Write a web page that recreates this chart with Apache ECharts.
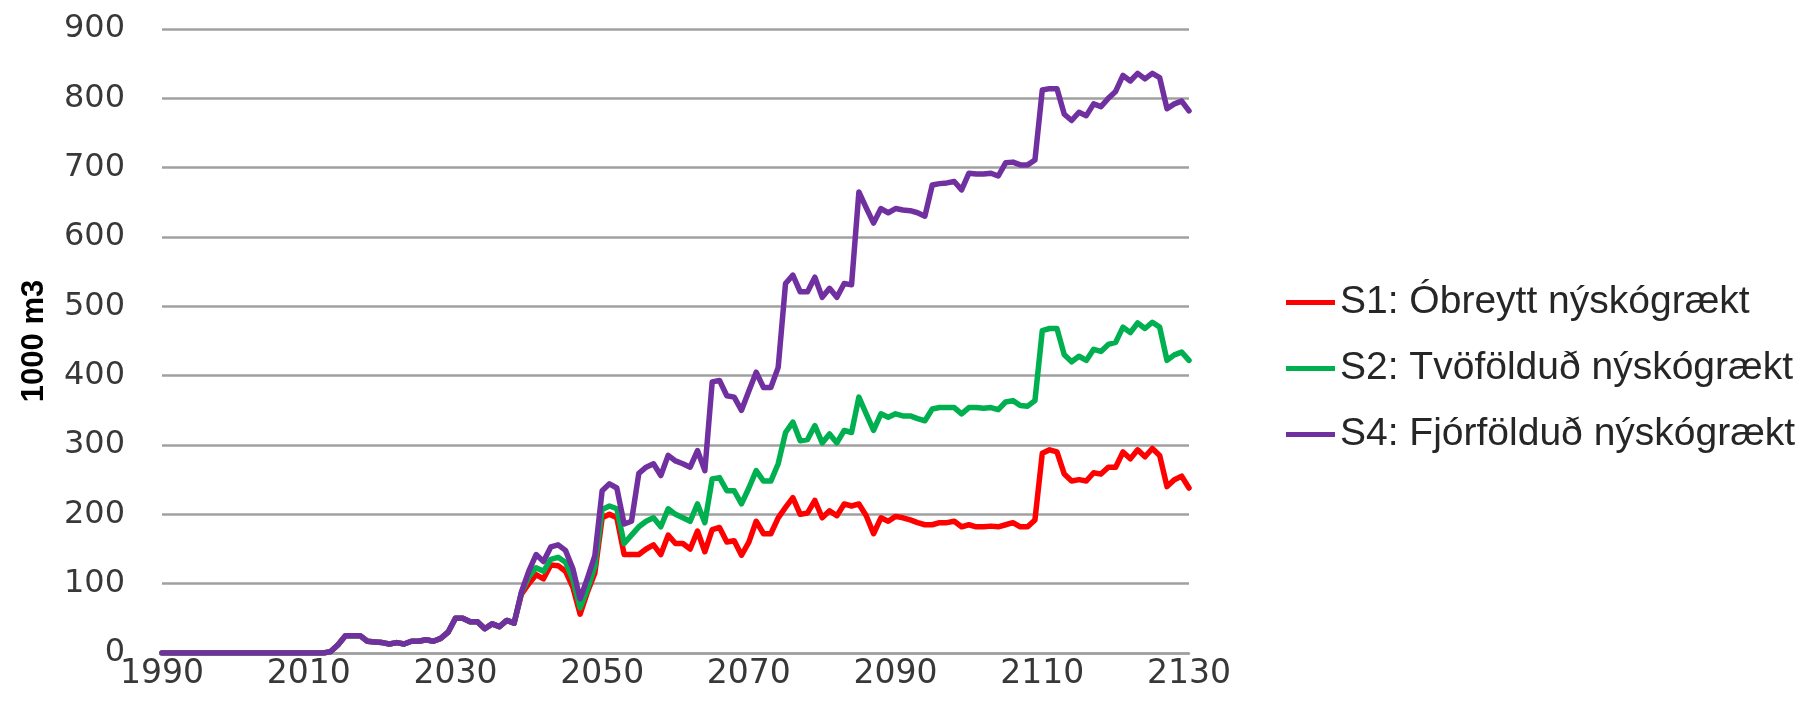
<!DOCTYPE html>
<html>
<head>
<meta charset="utf-8">
<script src="https://cdn.jsdelivr.net/npm/echarts@6/dist/echarts.min.js"></script>
<style>
html,body{margin:0;padding:0;background:#fff;}
#chart{width:1804px;height:719px;}
</style>
</head>
<body>
<div id="chart"></div>
<script>
// Years 1990..2130 (x categories)
const firstYear = 1990, lastYear = 2130;
const xTicks = [1990, 2010, 2030, 2050, 2070, 2090, 2110, 2130];
const yTicks = [0, 100, 200, 300, 400, 500, 600, 700, 800, 900];

// Values common to all scenarios, 1990..2038
const shared = [
  0,0,0,0,0,0,0,0,0,0,          // 1990-1999
  0,0,0,0,0,0,0,0,0,0,          // 2000-2009
  0,0,0,2,12,25,25,25,17,16,    // 2010-2019
  15,13,15,13,17,17,19,17,21,30,// 2020-2029
  50,50,45,45,35,42,38,47,43    // 2030-2038
];

// S1: Óbreytt nýskógrækt, 2039..2130
const s1Tail = [
  85,                                   // 2039
  100,113,107,127,126,118,95,56,88,115, // 2040-2049
  195,200,195,142,142,142,150,156,142,170, // 2050-2059
  158,158,150,176,146,178,181,160,162,141, // 2060-2069
  160,190,172,172,195,210,224,200,202,220, // 2070-2079
  195,205,198,215,212,215,198,172,195,190, // 2080-2089
  197,195,192,188,185,185,188,188,190,182, // 2090-2099
  185,182,182,183,182,185,188,182,182,192, // 2100-2109
  288,293,290,258,248,250,248,260,258,268, // 2110-2119
  268,290,280,293,283,295,285,240,250,255, // 2120-2129
  238                                      // 2130
];

// S2: Tvöfölduð nýskógrækt, 2039..2130
const s2Tail = [
  87,
  110,123,118,135,138,131,106,65,92,125,
  207,212,208,158,170,182,190,195,182,208,
  200,195,190,215,188,251,253,234,234,215,
  238,263,248,248,273,318,333,306,308,328,
  303,316,303,321,318,369,345,321,345,340,
  345,342,342,338,335,352,354,354,354,345,
  354,354,353,354,351,362,364,357,356,364,
  465,468,468,430,420,428,422,438,435,445,
  448,470,462,476,468,477,470,422,430,434,
  422
];

// S4: Fjórfölduð nýskógrækt, 2039..2130
const s4Tail = [
  88,
  118,142,132,153,156,148,122,78,108,140,
  234,244,238,186,190,259,268,273,256,285,
  277,273,268,292,263,391,393,371,369,350,
  378,405,383,383,412,533,545,521,521,542,
  513,526,513,533,531,665,642,620,641,635,
  641,639,638,635,630,675,677,678,680,668,
  692,691,691,692,688,707,708,704,704,711,
  812,814,814,777,768,780,775,792,788,800,
  810,833,825,836,828,836,830,785,792,796,
  782
];

const seriesNames = ['S1: Óbreytt nýskógrækt', 'S2: Tvöfölduð nýskógrækt', 'S4: Fjórfölduð nýskógrækt'];
const seriesColors = ['#ff0000', '#00b050', '#7030a0'];

const years = [];
for (let y = firstYear; y <= lastYear; y++) years.push(y);

function pairs(tail) {
  const vals = shared.concat(tail);
  return years.map((y, i) => [y, vals[i]]);
}
const allValues = [pairs(s1Tail), pairs(s2Tail), pairs(s4Tail)];

const chart = echarts.init(document.getElementById('chart'), null, {renderer: 'canvas'});
chart.setOption({
  backgroundColor: '#ffffff',
  animation: false,
  grid: {left: 162, top: 29, width: 1027, height: 624, containLabel: false},
  legend: {
    orient: 'vertical',
    left: 1281,
    top: 275,
    itemWidth: 49,
    itemHeight: 14,
    itemGap: 21,
    icon: 'path://M0,0 L49,0 L49,5 L0,5 Z',
    textStyle: {fontFamily: 'Liberation Sans', fontSize: 39, color: '#262626', lineHeight: 45},
    data: seriesNames
  },
  xAxis: {
    type: 'value',
    min: xTicks[0],
    max: xTicks[xTicks.length - 1],
    interval: 20,
    axisLine: {show: true, lineStyle: {color: '#a0a0a0', width: 2.5}},
    axisTick: {show: false},
    splitLine: {show: false},
    axisLabel: {
      fontFamily: 'DejaVu Sans', fontSize: 33, color: '#383838', margin: 5,
      formatter: v => xTicks.includes(v) ? String(v) : ''
    }
  },
  yAxis: {
    type: 'value',
    min: yTicks[0],
    max: yTicks[yTicks.length - 1],
    interval: 100,
    name: '1000 m3',
    nameLocation: 'middle',
    nameGap: 112,
    nameRotate: 90,
    nameTextStyle: {fontFamily: 'Liberation Sans', fontWeight: 'bold', fontSize: 31, color: '#000000'},
    axisLine: {show: false},
    axisTick: {show: false},
    splitLine: {show: true, lineStyle: {color: '#a0a0a0', width: 2.5}},
    axisLabel: {fontFamily: 'DejaVu Sans', fontSize: 32, color: '#383838', margin: 37}
  },
  series: seriesNames.map((n, i) => ({
    name: n,
    type: 'line',
    data: allValues[i],
    symbol: 'none',
    showSymbol: false,
    color: seriesColors[i],
    lineStyle: {color: seriesColors[i], width: 5.5, join: 'round', cap: 'round'},
    z: 2 + i
  }))
});
</script>
</body>
</html>
